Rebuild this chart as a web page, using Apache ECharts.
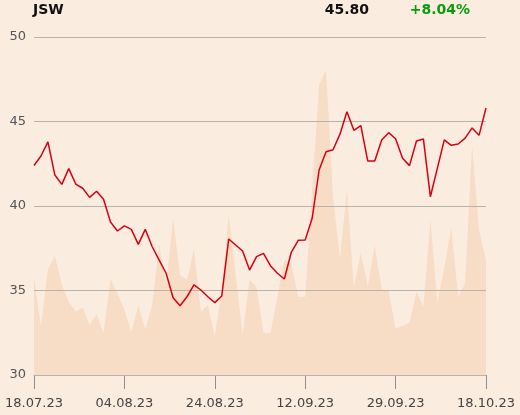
<!DOCTYPE html>
<html>
<head>
<meta charset="utf-8">
<script src="https://cdn.jsdelivr.net/npm/echarts@6/dist/echarts.min.js"></script>
<style>
  html, body { margin: 0; padding: 0; background: #fbece0; }
  #main { width: 520px; height: 415px; }
</style>
</head>
<body>
<div id="main"></div>
<script>
// trading days 18.07.23 - 18.10.23 (15.08 holiday)
var dates = [
  "18.07.23","19.07.23","20.07.23","21.07.23","24.07.23","25.07.23","26.07.23","27.07.23","28.07.23","31.07.23",
  "01.08.23","02.08.23","03.08.23","04.08.23","07.08.23","08.08.23","09.08.23","10.08.23","11.08.23",
  "14.08.23","16.08.23","17.08.23","18.08.23","21.08.23","22.08.23","23.08.23","24.08.23","25.08.23",
  "28.08.23","29.08.23","30.08.23","31.08.23","01.09.23","04.09.23","05.09.23","06.09.23","07.09.23","08.09.23",
  "11.09.23","12.09.23","13.09.23","14.09.23","15.09.23","18.09.23","19.09.23","20.09.23","21.09.23","22.09.23",
  "25.09.23","26.09.23","27.09.23","28.09.23","29.09.23","02.10.23","03.10.23","04.10.23","05.10.23","06.10.23",
  "09.10.23","10.10.23","11.10.23","12.10.23","13.10.23","16.10.23","17.10.23","18.10.23"
];

// closing price (PLN)
var price = [
  42.40, 42.96, 43.79, 41.83, 41.28, 42.21, 41.30, 41.05, 40.51, 40.87,
  40.40, 39.05, 38.52, 38.82, 38.62, 37.73, 38.62, 37.59, 36.80, 36.02,
  34.57, 34.10, 34.63, 35.33, 35.03, 34.63, 34.28, 34.67, 38.05, 37.69,
  37.34, 36.21, 37.00, 37.20, 36.47, 36.02, 35.68, 37.26, 37.97, 37.99,
  39.27, 42.13, 43.21, 43.33, 44.25, 45.58, 44.48, 44.76, 42.66, 42.66,
  43.91, 44.34, 43.98, 42.82, 42.39, 43.85, 43.96, 40.55, 42.23, 43.91,
  43.59, 43.67, 44.02, 44.62, 44.18, 45.80
];

// traded volume (thousand shares, estimated)
var volume = [
  582, 286, 625, 704, 533, 434, 375, 400, 296, 359,
  247, 568, 483, 385, 256, 410, 270, 414, 775, 521,
  927, 592, 562, 744, 375, 414, 231, 503, 944, 592,
  243, 562, 522, 250, 247, 463, 680, 661, 463, 463,
  1095, 1716, 1805, 1055, 690, 1095, 518, 725, 522, 766,
  509, 497, 274, 292, 309, 493, 404, 917, 430, 635,
  872, 463, 546, 1359, 858, 680
];

var priceTicks = [30, 35, 40, 45, 50];
var lastPrice = "45.80";
var change = "+8.04%";

var chart = echarts.init(document.getElementById('main'));
var font = 'DejaVu Sans, sans-serif';

var option = {
  backgroundColor: '#fbece0',
  animation: false,
  textStyle: { fontFamily: font },
  title: [
    { text: 'JSW', left: 33, top: 3, padding: 0, textStyle: { fontSize: 14, fontWeight: 'bold', color: '#111', fontFamily: font } },
    { text: lastPrice, right: 151, top: 3, padding: 0, textStyle: { fontSize: 14, fontWeight: 'bold', color: '#111', fontFamily: font } },
    { text: change, right: 50, top: 3, padding: 0, textStyle: { fontSize: 14, fontWeight: 'bold', color: '#0a9a0a', fontFamily: font } }
  ],
  grid: { left: 34, right: 34, top: 37, bottom: 40 },
  xAxis: {
    type: 'category',
    data: dates,
    boundaryGap: false,
    axisLine: { lineStyle: { color: '#8f8f8f', width: 1 } },
    axisTick: { length: 14, interval: 12, lineStyle: { color: '#8f8f8f' } },
    axisLabel: { interval: 12, margin: 22, fontSize: 13, color: '#444', fontFamily: font },
    splitLine: { show: false }
  },
  yAxis: [
    {
      type: 'value',
      min: priceTicks[0],
      max: priceTicks[priceTicks.length - 1],
      interval: 5,
      z: 1.5,
      axisLine: { show: false },
      axisTick: { show: false },
      axisLabel: { margin: 8, fontSize: 13, color: '#555', fontFamily: font },
      splitLine: { lineStyle: { color: '#b8b2aa', width: 1 } }
    },
    {
      type: 'value',
      min: 0,
      max: 2000,
      show: false,
      splitLine: { show: false }
    }
  ],
  series: [
    {
      name: 'Volume',
      type: 'line',
      yAxisIndex: 1,
      data: volume,
      z: 1,
      symbol: 'none',
      lineStyle: { width: 0 },
      areaStyle: { color: '#f7dcc6', opacity: 1 }
    },
    {
      name: 'JSW',
      type: 'line',
      data: price,
      z: 3,
      symbol: 'none',
      lineStyle: { color: '#d7000f', width: 1.5 }
    }
  ]
};
chart.setOption(option);
</script>
</body>
</html>
